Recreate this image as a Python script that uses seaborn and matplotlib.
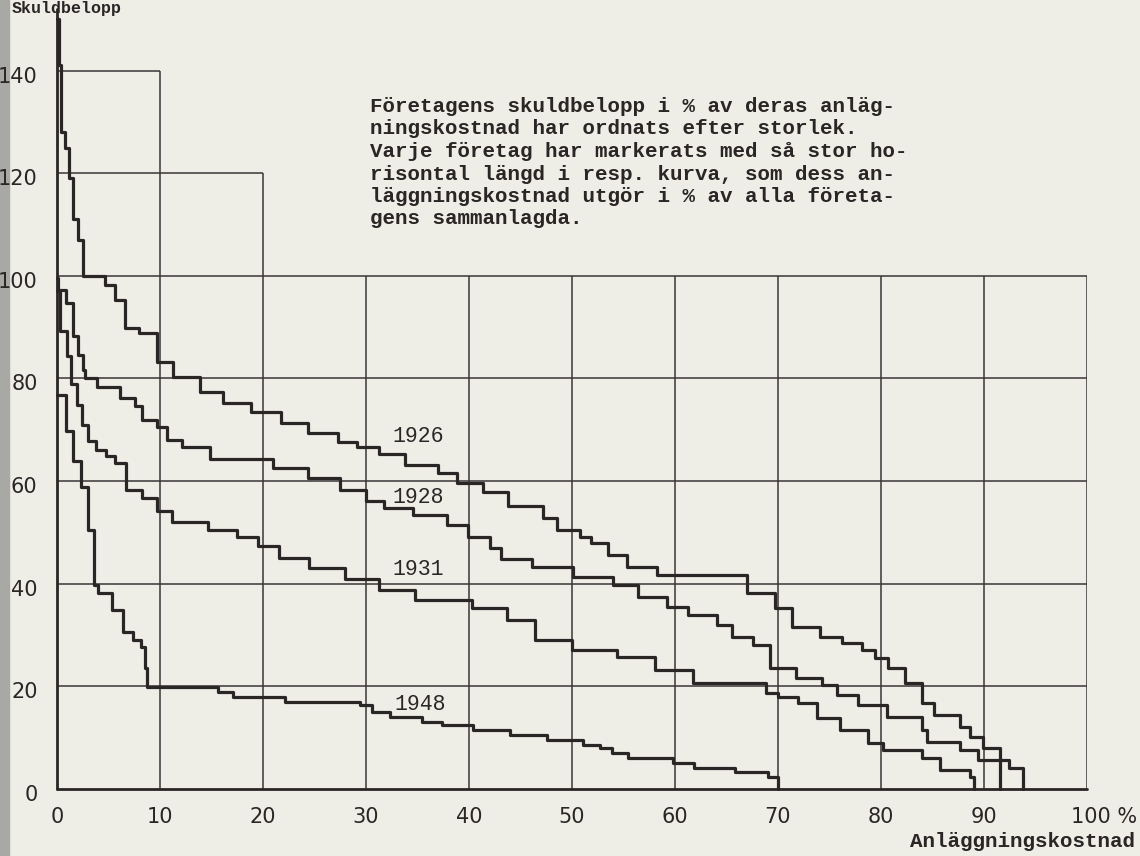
import numpy as np
import pandas as pd
import seaborn as sns
import matplotlib.pyplot as plt
from matplotlib.patches import Rectangle
from matplotlib.transforms import ScaledTranslation

# Step curves: x = where each step ends (% of total anläggningskostnad), level = skuldbelopp in %
ends_1926 = [0.2, 0.4, 0.8, 1.2, 1.6, 2.0, 2.5, 4.7, 5.6, 6.6, 8.0, 9.7, 11.3, 13.9, 16.1, 18.8, 21.7,
             24.4, 27.3, 29.1, 31.3, 33.8, 37.0, 38.8, 41.4, 43.8, 47.2, 48.5, 50.8, 51.8, 53.5, 55.3,
             58.3, 67.0, 69.7, 71.4, 74.1, 76.2, 78.2, 79.4, 80.7, 82.3, 84.0, 85.1, 87.7, 88.6, 89.9,
             91.6, 92.4, 93.8]
levels_1926 = [150, 141, 128, 125, 119, 111, 107, 100, 98.2, 95.3, 89.8, 88.8, 83.2, 80.3, 77.3, 75.2, 73.4,
               71.3, 69.4, 67.7, 66.7, 65.3, 63.2, 61.5, 59.6, 57.8, 55.1, 52.8, 50.5, 49.2, 47.9, 45.6,
               43.3, 41.8, 38.2, 35.3, 31.6, 29.6, 28.4, 27.1, 25.5, 23.6, 20.7, 16.8, 14.4, 12.1, 10.1,
               8.0, 5.7, 4.0]

ends_1928 = [0.1, 0.9, 1.6, 2.0, 2.5, 2.7, 3.9, 6.1, 7.6, 8.3, 9.7, 10.7, 12.1, 14.9, 21.0, 24.4, 27.5,
             30.0, 31.7, 34.6, 37.9, 39.9, 42.0, 43.1, 46.1, 50.1, 54.0, 56.4, 59.2, 61.3, 64.1, 65.5,
             67.6, 69.2, 71.7, 74.3, 75.7, 77.8, 80.6, 84.0, 84.5, 87.7, 89.4, 91.6]
levels_1928 = [99.5, 97.3, 94.7, 88.2, 84.6, 81.7, 80.1, 78.4, 76.2, 74.6, 71.9, 70.6, 68.0, 66.7, 64.3,
               62.5, 60.7, 58.3, 56.2, 54.8, 53.4, 51.5, 49.2, 47.0, 44.8, 43.2, 41.3, 39.8, 37.4, 35.5,
               33.9, 32.0, 29.7, 28.1, 23.6, 21.6, 20.3, 18.3, 16.4, 14.0, 11.5, 9.2, 7.6, 5.7]

ends_1931 = [0.3, 1.0, 1.4, 1.9, 2.45, 3.0, 3.8, 4.8, 5.6, 6.7, 8.3, 9.7, 11.2, 14.7, 17.5, 19.5, 21.6,
             24.5, 28.0, 31.3, 34.8, 40.3, 43.7, 46.4, 50.0, 54.4, 58.1, 61.7, 68.8, 70.0, 71.9, 73.8,
             76.0, 78.7, 80.2, 84.0, 85.7, 88.6, 89.0]
levels_1931 = [97.0, 89.3, 84.3, 79.0, 74.8, 71.0, 67.8, 66.0, 64.8, 63.6, 58.3, 56.8, 54.2, 52.0, 50.5,
               49.2, 47.4, 45.0, 43.0, 40.9, 38.8, 36.8, 35.3, 32.9, 29.0, 27.1, 25.7, 23.2, 20.7, 18.7,
               18.0, 16.7, 13.8, 11.5, 9.0, 7.6, 6.0, 3.7, 2.4]

ends_1948 = [0.85, 1.6, 2.3, 3.0, 3.6, 4.0, 5.3, 6.4, 7.4, 8.2, 8.5, 8.7, 15.6, 17.1, 22.1, 29.4, 30.6,
             32.3, 35.4, 37.4, 40.4, 44.0, 47.6, 51.1, 52.7, 53.9, 55.4, 59.8, 61.8, 65.8, 69.0, 70.0]
levels_1948 = [76.8, 69.8, 63.9, 58.9, 50.5, 39.8, 38.2, 34.9, 30.6, 29.0, 27.7, 23.5, 19.8, 19.0, 18.0,
               17.0, 16.4, 15.0, 14.0, 13.1, 12.5, 11.5, 10.5, 9.5, 8.6, 8.0, 7.0, 6.0, 5.1, 4.1, 3.3, 2.3]

years = ['1926', '1928', '1931', '1948']
label_pos = {'1926': (32.6, 67.6), '1928': (32.6, 55.7), '1931': (32.6, 41.7), '1948': (32.8, 15.4)}

x_ticks = [0, 10, 20, 30, 40, 50, 60, 70, 80, 90, 100]
x_ticklabels = ['0', '10', '20', '30', '40', '50', '60', '70', '80', '90', '100 %']
y_ticks = [0, 20, 40, 60, 80, 100, 120, 140]

# grid: vertical line at x goes up to top; horizontal line at y goes right to end
grid_x = [10, 20, 30, 40, 50, 60, 70, 80, 90, 100]
grid_x_top = [140, 120, 100, 100, 100, 100, 100, 100, 100, 100]
grid_y = [20, 40, 60, 80, 100, 120, 140]
grid_y_end = [100, 100, 100, 100, 100, 20, 10]

note = ["Företagens skuldbelopp i % av deras anläg-",
        "ningskostnad har ordnats efter storlek.",
        "Varje företag har markerats med så stor ho-",
        "risontal längd i resp. kurva, som dess an-",
        "läggningskostnad utgör i % av alla företa-",
        "gens sammanlagda."]

curves = {'1926': (ends_1926, levels_1926), '1928': (ends_1928, levels_1928),
          '1931': (ends_1931, levels_1931), '1948': (ends_1948, levels_1948)}
rows = []
for yr, (ends, levels) in curves.items():
    xs = [0] + ends
    ys = levels + [0]
    for a, b in zip(xs, ys):
        rows.append({'year': yr, 'andel': a, 'skuld': b})
df = pd.DataFrame(rows)

paper = '#eeede6'
ink = '#2a2626'

sns.set_theme(style='white', rc={'figure.facecolor': paper, 'axes.facecolor': paper})
plt.rcParams['font.family'] = ['DejaVu Sans']

W, H = 1140, 856
fig = plt.figure(figsize=(W / 100, H / 100), dpi=100)
ax = fig.add_axes([57 / W, 1 - 789 / H, 1030 / W, 780 / H])
ax.set_xlim(0, 100)
ax.set_ylim(0, 152)
for s in ax.spines.values():
    s.set_visible(False)

# grid
ax.vlines(grid_x, 0, grid_x_top, color='#3a3636', lw=1.1, zorder=1)
ax.hlines(grid_y, 0, grid_y_end, color='#3a3636', lw=1.1, zorder=1)
# axes
ax.plot([0, 0], [0, 152], color=ink, lw=2.0, clip_on=False, zorder=2)
ax.plot([0, 100], [0, 0], color=ink, lw=2.0, clip_on=False, zorder=2)

sns.lineplot(data=df, x='andel', y='skuld', units='year', estimator=None, sort=False,
             drawstyle='steps-post', color=ink, lw=2.3, ax=ax, zorder=3, clip_on=False)
ax.set_xlabel('')
ax.set_ylabel('')

for yr in years:
    lx, ly = label_pos[yr]
    ax.text(lx, ly, yr, family='Liberation Mono', fontsize=15.5, color=ink, va='baseline', ha='left')

ax.set_xticks(x_ticks)
ax.set_xticklabels(x_ticklabels)
ax.set_yticks(y_ticks)
ax.set_yticklabels([str(v) for v in y_ticks])
ax.tick_params(axis='both', length=0, labelsize=15, colors=ink)
ax.tick_params(axis='x', pad=13)
ax.tick_params(axis='y', pad=14)
for lbl in ax.get_yticklabels():
    lbl.set_transform(lbl.get_transform() + ScaledTranslation(0, -0.04, fig.dpi_scale_trans))
last = ax.get_xticklabels()[-1]
last.set_horizontalalignment('left')
last.set_transform(last.get_transform() + ScaledTranslation(-0.16, 0, fig.dpi_scale_trans))

for i, line in enumerate(note):
    fig.text(370 / W, 1 - (112 + i * 22.5) / H, line, family='Liberation Mono', fontweight='bold',
             fontsize=15, color=ink, va='baseline', ha='left')

fig.text(1135 / W, 1 - 847 / H, 'Anläggningskostnad', family='Liberation Mono', fontweight='bold',
         fontsize=15, color=ink, va='baseline', ha='right')
fig.text(12 / W, 1 - 13 / H, 'Skuldbelopp', family='Liberation Mono', fontweight='bold',
         fontsize=12, color=ink, va='baseline', ha='left')

fig.patches.append(Rectangle((0, 0), 9 / W, 1, transform=fig.transFigure, color='#a8a8a4', zorder=-1))

fig.savefig('out.png', dpi=100, facecolor=paper)
